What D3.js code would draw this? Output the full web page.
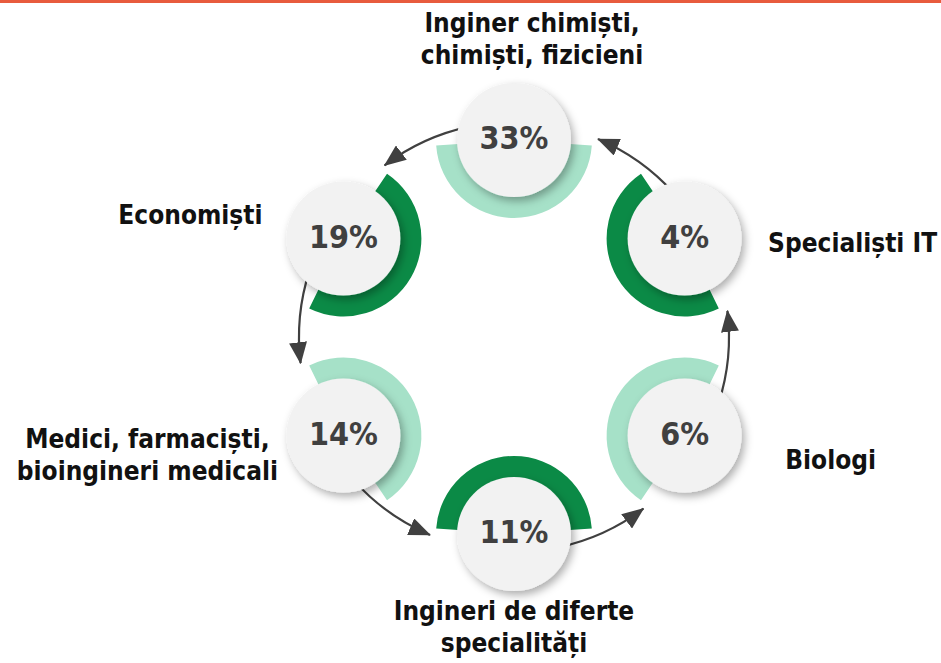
<!DOCTYPE html>
<html lang="ro">
<head>
  <meta charset="UTF-8">
  <title>Ciclu profesii</title>
  <script src="https://d3js.org/d3.v7.min.js"></script>
  <style>
    html, body { width:100%; height:100%; margin:0; background:#fff; overflow:hidden; }
    svg { display:block; }
    .label { font-family:"DejaVu Sans Condensed","DejaVu Sans",sans-serif; font-stretch:condensed; font-weight:bold; font-size:26px; fill:#111; }
    .pct { font-family:"DejaVu Sans Condensed","DejaVu Sans",sans-serif; font-stretch:condensed; font-weight:bold; font-size:32px; fill:#404040; }
    .arrow { fill:none; stroke:#404040; stroke-width:2.2px; }
  </style>
</head>
<body>
  <svg id="chart" width="941" height="663"></svg>
  <script>
    // data, in the order the arrows run (counter-clockwise from the top)
    const categories = [
      ["Inginer chimiști,", "chimiști, fizicieni"],
      ["Economiști"],
      ["Medici, farmaciști,", "bioingineri medicali"],
      ["Ingineri de diferte", "specialități"],
      ["Biologi"],
      ["Specialiști IT"]
    ];
    const values = [33, 19, 14, 11, 6, 4];

    const W = 941, H = 663,
          cx = 514, cy = 337,
          R = 197,          // ring of nodes
          rNode = 57,
          rArcIn = 56, rArcOut = 78,
          rArrow = 215;

    const dark = "#0b8a46", light = "#a6e1c8";
    const tone = i => i % 2 ? dark : light;

    // label placement relative to node centre [dx, dy of first baseline]
    const labelOff = [[18,-108],[-153,-15],[-196,12],[0,86],[146,33],[168,13]];

    const rad = d => d * Math.PI / 180;
    const angle = d3.scaleLinear().domain([0, values.length]).range([0, -360]);

    const nodes = values.map((v, i) => {
      const a = angle(i);
      return { i, v, a, x: cx + R*Math.sin(rad(a)), y: cy - R*Math.cos(rad(a)) };
    });

    const svg = d3.select("#chart");
    const defs = svg.append("defs");

    const f = defs.append("filter").attr("id","shadow")
      .attr("x","-30%").attr("y","-30%").attr("width","160%").attr("height","160%");
    f.append("feDropShadow").attr("dx",3).attr("dy",4).attr("stdDeviation",4.5)
      .attr("flood-color","#000").attr("flood-opacity",0.32);

    defs.append("marker").attr("id","head")
      .attr("markerUnits","userSpaceOnUse")
      .attr("viewBox","0 0 22 18").attr("markerWidth",22).attr("markerHeight",18)
      .attr("refX",21).attr("refY",9).attr("orient","auto")
      .append("path").attr("d","M0,0L22,9L0,18Z").attr("fill","#404040");

    // top rule
    svg.append("rect").attr("x",0).attr("y",0).attr("width",W).attr("height",3).attr("fill","#e85b3d");

    // arrows between neighbours, along an outer circle
    svg.append("g").selectAll("path")
      .data(nodes)
      .join("path")
        .attr("class","arrow")
        .attr("marker-end","url(#head)")
        .attr("d", d => {
          const s = rad(d.a - 12 - 90), e = rad(d.a - 37 - 90);
          const p = d3.path();
          p.moveTo(cx + rArrow*Math.cos(s), cy + rArrow*Math.sin(s));
          p.arc(cx, cy, rArrow, s, e, true);
          return p.toString();
        });

    // half rings facing the centre
    const arc = d3.arc().innerRadius(rArcIn).outerRadius(rArcOut);
    svg.append("g").selectAll("path")
      .data(nodes)
      .join("path")
        .attr("transform", d => `translate(${d.x},${d.y})`)
        .attr("fill", d => tone(d.i))
        .attr("d", d => arc({ startAngle: rad(d.a + 180 - 86), endAngle: rad(d.a + 180 + 86) }));

    // circles
    const node = svg.append("g").selectAll("g")
      .data(nodes)
      .join("g")
        .attr("transform", d => `translate(${d.x},${d.y})`);

    node.append("circle").attr("r", rNode).attr("fill","#f2f2f2").attr("filter","url(#shadow)");
    node.append("text")
      .attr("class","pct")
      .attr("text-anchor","middle")
      .attr("y", 9)
      .text(d => d.v + "%");

    // labels
    svg.append("g").selectAll("text")
      .data(nodes)
      .join("text")
        .attr("class","label")
        .attr("text-anchor","middle")
        .attr("x", d => d.x + labelOff[d.i][0])
        .attr("y", d => d.y + labelOff[d.i][1])
        .selectAll("tspan")
        .data(d => categories[d.i].map(t => ({ t, x: d.x + labelOff[d.i][0] })))
        .join("tspan")
          .attr("x", t => t.x)
          .attr("dy", (t, j) => j ? 32 : 0)
          .text(t => t.t);
  </script>
</body>
</html>
